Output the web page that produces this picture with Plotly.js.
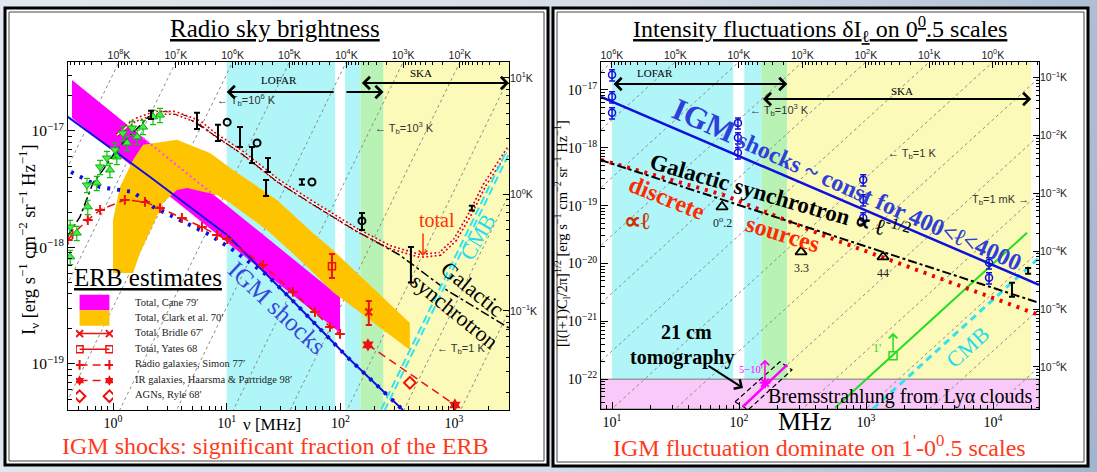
<!DOCTYPE html>
<html><head><meta charset="utf-8">
<script src="https://cdn.plot.ly/plotly-3.0.1.min.js"></script>
<style>
html,body{margin:0;padding:0;}
body{width:1097px;height:472px;overflow:hidden;background:linear-gradient(105deg,#e2e8ef 0%,#d3dce7 55%,#a2b5ce 100%);}
#chart{width:1097px;height:472px;}
</style></head><body><div id="chart"></div>
<script>
// ================= DATA =================
// frequencies in MHz, intensities in erg s^-1 cm^-2 sr^-1 Hz^-1

// instrument bands (MHz)
const lofarBands = [[10, 90], [110, 150]];
const overlapBand = [150, 240];
const skaBand = [240, 20000];
const bremsLevel = 1e-22;

// brightness-temperature guide lines (K)
const leftTemps = [1e-1, 1, 1e1, 1e2, 1e3, 1e4, 1e5, 1e6, 1e7, 1e8];
const rightTemps = [1e-6, 1e-5, 1e-4, 1e-3, 1e-2, 1e-1, 1, 1e1, 1e2, 1e3, 1e4, 1e5, 1e6];

// ---- left panel: radio sky brightness ----
const caneNu = [0.436, 99.3, 99.3, 0.436];
const caneI = [2.74e-17, 3.76e-19, 1.85e-19, 1.29e-17];
const caneEdgeNu = [1.84, 7.89];
const caneEdgeI = [8.7e-18, 2.77e-18];

const clarkNu = [1.0, 1.0, 1.152, 1.50, 1.84, 3.65, 7.13, 11.4, 27.7, 57.4, 86.1, 409, 409, 86.1, 44.2, 22.6, 10.7, 8.22, 4.48, 3.65, 2.75, 2.12, 1.73, 1.50];
const clarkI = [6.04e-19, 1.72e-18, 3.30e-18, 5.64e-18, 7.6e-18, 8.4e-18, 6.47e-18, 4.63e-18, 2.56e-18, 1.33e-18, 9.5e-19, 2.25e-19, 1.32e-19, 4.15e-19, 7.82e-19, 1.41e-18, 2.41e-18, 2.82e-18, 3.24e-18, 3.12e-18, 2.41e-18, 1.41e-18, 8.97e-19, 6.04e-19];

const igmNu = [0.40, 2.12, 10.1, 36.1, 117, 355];
const igmI = [1.32e-17, 4.03e-18, 1.28e-18, 3.69e-19, 1.13e-19, 4.03e-20];
const igmLowNu = [0.427, 0.77, 1.50, 2.25, 3.88, 7.13, 11.4, 16.0, 23.1, 36.1, 117, 355];
const igmLowI = [4.45e-18, 3.30e-18, 2.99e-18, 2.23e-18, 1.72e-18, 1.28e-18, 9.5e-19, 7.4e-19, 5.69e-19, 3.69e-19, 1.13e-19, 4.03e-20];

const totalNu = [1.08, 1.56, 2.34, 3.51, 5.82, 7.58, 13.9, 27.7, 57.4, 140, 273, 502, 751, 1019, 1370, 1860, 3040];
const totalI = [9.2e-18, 1.24e-17, 1.43e-17, 1.43e-17, 1.19e-17, 9.6e-18, 6.47e-18, 3.79e-18, 2.41e-18, 1.41e-18, 1.01e-18, 8.45e-19, 8.8e-19, 1.16e-18, 1.90e-18, 3.44e-18, 7.15e-18];

const synchNu = [0.394, 0.512, 0.667, 0.817, 1.08, 1.50, 2.12, 2.87, 4.30, 7.58, 13.9, 27.7, 57.4, 140, 334, 865, 3040];
const synchI = [1.23e-18, 1.83e-18, 3.58e-18, 4.63e-18, 6.9e-18, 9.6e-18, 1.37e-17, 1.46e-17, 1.35e-17, 9.4e-18, 6.3e-18, 3.7e-18, 2.35e-18, 1.38e-18, 8.6e-19, 4.3e-19, 2.04e-19];

const simonNu = [0.40, 0.44, 0.60, 0.77, 1.27, 1.91, 2.59, 4.04, 6.06, 8.22, 10.1, 20.8, 38.3, 59.8, 81.1, 99.3];
const simonI = [1.16e-18, 1.3e-18, 1.72e-18, 2.10e-18, 2.56e-18, 2.46e-18, 2.18e-18, 1.79e-18, 1.50e-18, 1.28e-18, 1.18e-18, 7.1e-19, 4.15e-19, 2.79e-19, 2.08e-19, 1.81e-19];

const bridleNu = [178], bridleI = [2.79e-19], bridleErrP = [6.8e-20], bridleErrM = [6.3e-20];
const yatesNu = [84.4], yatesI = [6.9e-19], yatesErrP = [1.9e-19], yatesErrM = [1.43e-19];
const irNu = [175, 1019], irI = [1.46e-19, 4.45e-20];
const agnNu = [409], agnI = [6.9e-20];
const cmbNu = [237, 3040], cmbI = [4.03e-20, 6.87e-18];

const obsNu = [2.16, 5.48, 8.38, 13.1, 16.7, 23.1, 22.2, 45.9, 155, 418, 1436];
const obsI = [1.37e-17, 1.22e-17, 9.6e-18, 8.9e-18, 6.2e-18, 5.11e-18, 3.24e-18, 3.65e-18, 1.69e-18, 7.1e-19, 2.18e-18];
const obsErrP = [1.2e-18, 2.1e-18, 1.7e-18, 1.9e-18, 1.1e-18, 7.5e-19, 5.5e-19, 2.0e-19, 2.9e-19, 3.0e-19, 1.0e-19];
const obsErrM = [1.0e-18, 1.8e-18, 1.4e-18, 1.6e-18, 9e-19, 6.6e-19, 4.7e-19, 2.0e-19, 2.8e-19, 2.1e-19, 1.0e-19];
const circNu = [10.1, 18.5, 56.3, 155];
const circI = [1.19e-17, 7.9e-18, 3.65e-18, 1.69e-18];

const greenDownNu = [0.42, 0.59, 0.77, 0.885, 1.04, 1.22, 1.47];
const greenDownI = [1.50e-18, 3.44e-18, 4.91e-18, 5.86e-18, 6.9e-18, 9.6e-18, 1.06e-17];
const greenUpNu = [0.42, 0.48, 0.60, 0.72, 0.94, 1.08, 1.33, 1.63, 1.84, 2.25, 2.59];
const greenUpI = [8.3e-19, 1.33e-18, 2.23e-18, 3.58e-18, 4.63e-18, 5.98e-18, 7.9e-18, 8.9e-18, 1.08e-17, 1.32e-17, 1.37e-17];

const erbLegend = ["Total, Cane 79′", "Total, Clark et al. 70′", "Total, Bridle 67′", "Total, Yates 68", "Radio galaxies, Simon 77′", "IR galaxies, Haarsma &amp; Partridge 98′", "AGNs, Ryle 68′"];

// ---- right panel: intensity fluctuations ----
const igm2Nu = [8.19, 23000];
const igm2I = [7.62e-18, 4.28e-21];
const igmObsNu = [10, 10, 10, 98, 98, 98, 950, 950, 950, 9300, 9300];
const igmObsI = [1.83e-17, 7.62e-18, 4.03e-18, 2.70e-18, 1.49e-18, 8.19e-19, 2.80e-19, 1.26e-19, 6.17e-20, 1.03e-20, 5.65e-21];
const synch2Nu = [8.05, 23000];
const synch2I = [6.2e-19, 2.09e-21];
const disc2Nu = [8.19, 74.8, 493, 23000];
const disc2I = [6.2e-19, 1.54e-19, 2.89e-20, 1.29e-21];
const triNu = [73.5, 308, 1361];
const triI = [9.55e-20, 1.59e-20, 1.30e-20];
const triLabels = ["0<sup>o</sup>.2", "3.3", "44"];
const obs2Nu = [18900, 14100];
const obs2I = [7.46e-21, 3.51e-21];
const obs2ErrP = [9e-22, 1.12e-21];
const obs2ErrM = [8e-22, 8.6e-22];
const grn2Nu = [570, 18500];
const grn2I = [3.19e-23, 3.39e-20];
const grnSqNu = [1633], grnSqI = [2.53e-22];
const cmb2Nu = [1135, 23000];
const cmb2I = [3.07e-23, 1.25e-20];
const tomoNu = [107, 239], tomoI = [3.32e-23, 1.77e-22];
const tomoStarNu = [160], tomoStarI = [8.63e-23];
const tomoBoxNu = [93.1, 210, 261, 118, 93.1];
const tomoBoxI = [4.06e-23, 2.0e-22, 1.45e-22, 2.95e-23, 4.06e-23];

// ================= LAYOUT HELPERS =================
const W = 1097, H = 472;
const px = x => x / W, py = y => 1 - y / H;
const SERIF = '"Liberation Serif", "Times New Roman", serif';
const SANS = '"Liberation Sans", Arial, sans-serif';
const RJ = 3.07e-25; // 2k nu^2/c^2 per K, nu in MHz (Rayleigh-Jeans)
const COL = {cyan:'#b0f6f8', green:'#b8f2b5', yellow:'#fbfab8', pink:'#f9c9f9', magenta:'#ff00ff',
  orange:'#ffc400', blue:'#1010dd', red:'#ee1111', cmb:'#33e2f0', grn:'#22dd22'};

const LX = [-0.396, 3.484], LY = [-19.395, -16.408];
const RX = [0.913, 4.362], RY = [-22.516, -16.516];

const lg = Math.log10;
const decText = n => '10<sup>' + (n < 0 ? '−' + (-n) : n) + '</sup>';
const kText = T => decText(Math.round(lg(T))) + 'K';
function minorVals(lo, hi) {
  const out = [];
  for (let k = Math.floor(lo) - 1; k <= Math.ceil(hi); k++)
    for (let m = 2; m <= 9; m++) { const v = m * Math.pow(10, k); if (lg(v) > lo && lg(v) < hi) out.push(v); }
  return out;
}
const topNu = (T, yr) => Math.sqrt(Math.pow(10, yr[1]) / (RJ * T));
const rightI = (T, xr) => RJ * T * Math.pow(10, 2 * xr[1]);
function minorT(lo, hi) { const o = []; for (let k = lo; k <= hi; k++) for (let m = 2; m <= 9; m++) o.push(m * Math.pow(10, k)); return o; }

// ================= TRACES =================
const traces = [];
const onL = {xaxis:'x', yaxis:'y'}, onR = {xaxis:'x2', yaxis:'y2'};
const base = {hoverinfo:'skip', showlegend:false};
function add(ax, o) { traces.push(Object.assign({}, base, ax, o)); }

leftTemps.forEach(T => add(onL, {x:[0.3, 4000], y:[RJ*T*0.09, RJ*T*1.6e7], mode:'lines', line:{color:'#8c8c8c', width:1, dash:'dot'}}));
rightTemps.forEach(T => add(onR, {x:[7, 30000], y:[RJ*T*49, RJ*T*9e8], mode:'lines', line:{color:'#8c8c8c', width:1, dash:'dot'}}));

add(onL, {x:caneNu, y:caneI, mode:'lines', fill:'toself', fillcolor:COL.magenta, line:{width:0, color:COL.magenta}});
add(onL, {x:clarkNu, y:clarkI, mode:'lines', fill:'toself', fillcolor:COL.orange, line:{width:0, color:COL.orange}});
add(onL, {x:caneEdgeNu, y:caneEdgeI, mode:'lines', line:{color:'#ff44ff', width:2, dash:'2px,3px'}});

add(onL, {x:igmLowNu, y:igmLowI, mode:'lines', line:{color:COL.blue, width:4, dash:'3px,7px'}});
add(onL, {x:igmNu, y:igmI, mode:'lines', line:{color:COL.blue, width:2}});

const sty = {
  bridle: {mode:'lines+markers', line:{color:COL.red, width:1.5}, marker:{symbol:'x-thin', size:7, line:{color:COL.red, width:2}}},
  yates: {mode:'lines+markers', line:{color:COL.red, width:1.5}, marker:{symbol:'square-open', size:7, color:COL.red, line:{color:COL.red, width:1.5}}},
  simon: {mode:'lines+markers', line:{color:COL.red, width:1.5, dash:'8px,5px'}, marker:{symbol:'cross-thin', size:7, line:{color:COL.red, width:2}}},
  ir: {mode:'lines+markers', line:{color:COL.red, width:1.5, dash:'8px,5px'}, marker:{symbol:'hexagram', size:10, color:COL.red}},
  agn: {mode:'markers', marker:{symbol:'diamond-open', size:9, color:COL.red, line:{color:COL.red, width:2}}}
};

add(onL, Object.assign({x:simonNu, y:simonI}, sty.simon));
add(onL, {x:synchNu, y:synchI, mode:'lines', line:{color:'#000', width:1.5, dash:'dashdot'}});
add(onL, {x:totalNu, y:totalI, mode:'lines', line:{color:'#e00000', width:4.5, dash:'1.8px,2.4px'}});
add(onL, {x:totalNu, y:totalI, mode:'lines', line:{color:'#ffffff', width:1.2}});
add(onL, {x:cmbNu, y:cmbI, mode:'lines', line:{color:COL.cmb, width:5.5, dash:'8px,4px'}});
add(onL, {x:cmbNu, y:cmbI, mode:'lines', line:{color:'#fbfab8', width:1.5}});
add(onL, {x:greenUpNu, y:greenUpI, mode:'markers', marker:{symbol:'triangle-up', size:8, color:'#44f044', line:{color:'#10b010', width:1}},
  error_y:{type:'percent', value:14, color:'#10c010', thickness:1.2, width:3}});
add(onL, {x:greenDownNu, y:greenDownI, mode:'markers', marker:{symbol:'triangle-down', size:8, color:'#44f044', line:{color:'#10b010', width:1}},
  error_y:{type:'percent', value:14, color:'#10c010', thickness:1.2, width:3}});
add(onL, {x:obsNu, y:obsI, mode:'markers', marker:{symbol:'line-ew', size:1, color:'#000', line:{width:0}},
  error_y:{type:'data', array:obsErrP, arrayminus:obsErrM, color:'#000', thickness:2, width:3}});
add(onL, {x:circNu, y:circI, mode:'markers', marker:{symbol:'circle-open', size:7, color:'#000', line:{color:'#000', width:2}}});
add(onL, Object.assign({x:yatesNu, y:yatesI, error_y:{type:'data', array:yatesErrP, arrayminus:yatesErrM, color:COL.red, thickness:2, width:3}}, sty.yates, {mode:'markers'}));
add(onL, Object.assign({x:bridleNu, y:bridleI, error_y:{type:'data', array:bridleErrP, arrayminus:bridleErrM, color:COL.red, thickness:2, width:3}}, sty.bridle, {mode:'markers'}));
add(onL, Object.assign({x:irNu, y:irI}, sty.ir));
add(onL, Object.assign({x:agnNu, y:agnI}, sty.agn));

add(onR, {x:tomoBoxNu, y:tomoBoxI, mode:'lines', line:{color:'#000', width:1.2, dash:'5px,3px'}});
add(onR, {x:tomoNu, y:tomoI, mode:'lines', line:{color:COL.magenta, width:2.5}});
add(onR, {x:tomoStarNu, y:tomoStarI, mode:'markers', marker:{symbol:'asterisk', size:9, line:{color:COL.magenta, width:2}}});
add(onR, {x:grn2Nu, y:grn2I, mode:'lines', line:{color:COL.grn, width:2}});
add(onR, {x:grnSqNu, y:grnSqI, mode:'markers', marker:{symbol:'square-open', size:8, color:COL.grn, line:{color:COL.grn, width:1.5}}});
add(onR, {x:cmb2Nu, y:cmb2I, mode:'lines', line:{color:COL.cmb, width:3, dash:'7px,5px'}});
add(onR, {x:disc2Nu, y:disc2I, mode:'lines', line:{color:'#ee0000', width:4, dash:'3px,6px'}});
add(onR, {x:synch2Nu, y:synch2I, mode:'lines', line:{color:'#000', width:2, dash:'dashdot'}});
add(onR, {x:igm2Nu, y:igm2I, mode:'lines', line:{color:COL.blue, width:2.5}});
add(onR, {x:igmObsNu, y:igmObsI, mode:'markers', marker:{symbol:'circle-open', size:7, color:COL.blue, line:{color:COL.blue, width:1.5}},
  error_y:{type:'percent', value:22, color:COL.blue, thickness:1.5, width:3}});
add(onR, {x:triNu, y:triI, mode:'markers', marker:{symbol:'triangle-up-open', size:10, color:'#000', line:{color:'#000', width:1.8}}});
add(onR, {x:obs2Nu, y:obs2I, mode:'markers', marker:{symbol:'line-ew', size:1, color:'#000', line:{width:0}},
  error_y:{type:'data', array:obs2ErrP, arrayminus:obs2ErrM, color:'#000', thickness:2, width:3}});

add({xaxis:'x3', yaxis:'y'}, {x:[null], y:[null], mode:'markers'});
add({xaxis:'x', yaxis:'y3'}, {x:[null], y:[null], mode:'markers'});
add({xaxis:'x4', yaxis:'y2'}, {x:[null], y:[null], mode:'markers'});
add({xaxis:'x2', yaxis:'y4'}, {x:[null], y:[null], mode:'markers'});

const lgAx = {xaxis:'x5', yaxis:'y5'};
[['bridle', 2], ['yates', 3], ['simon', 4], ['ir', 5], ['agn', 6]].forEach(([k, row]) => {
  const s = JSON.parse(JSON.stringify(sty[k]));
  if (k === 'ir') s.marker.size = 8;
  add(lgAx, Object.assign({x:[0, 1], y:[row, row]}, s));
});

// ================= AXES =================
const axBase = {type:'log', showgrid:false, zeroline:false, showline:true, linecolor:'#000', linewidth:1,
  ticks:'inside', ticklen:7, tickcolor:'#000', tickmode:'array', fixedrange:true};
const minorOf = (lo, hi) => ({ticks:'inside', ticklen:4, tickcolor:'#000', tickmode:'array', tickvals:minorVals(lo, hi)});

const leftTopT = [1e8, 1e7, 1e6, 1e5, 1e4, 1e3, 1e2];
const leftRightT = [1e1, 1, 1e-1];
const rightTopT = [1e6, 1e5, 1e4, 1e3, 1e2, 1e1, 1];
const rightRightT = [1e-1, 1e-2, 1e-3, 1e-4, 1e-5, 1e-6];

function kAxisX(over, anchor, xr, yr, Ts, mlo, mhi) {
  const mv = minorT(mlo, mhi).map(T => topNu(T, yr)).filter(v => lg(v) > xr[0] && lg(v) < xr[1]);
  return Object.assign({}, axBase, {overlaying:over, anchor:anchor, side:'top', range:xr, showline:false,
    tickvals:Ts.map(T => topNu(T, yr)), ticktext:Ts.map(kText), ticklen:6,
    tickfont:{family:SANS, size:10.5, color:'#222'}, minor:{ticks:'inside', ticklen:3, tickcolor:'#000', tickmode:'array', tickvals:mv}});
}
function kAxisY(over, anchor, xr, yr, Ts, mlo, mhi) {
  const mv = minorT(mlo, mhi).map(T => rightI(T, xr)).filter(v => lg(v) > yr[0] && lg(v) < yr[1]);
  return Object.assign({}, axBase, {overlaying:over, anchor:anchor, side:'right', range:yr, showline:false,
    tickvals:Ts.map(T => rightI(T, xr)), ticktext:Ts.map(kText), ticklen:6,
    tickfont:{family:SANS, size:10.5, color:'#222'}, minor:{ticks:'inside', ticklen:3, tickcolor:'#000', tickmode:'array', tickvals:mv}});
}

const layout = {
  width:W, height:H, margin:{l:0, r:0, t:0, b:0, pad:0}, autosize:false,
  paper_bgcolor:'rgba(0,0,0,0)', plot_bgcolor:'rgba(0,0,0,0)', showlegend:false, hovermode:false,
  font:{family:SERIF, color:'#000'},
  xaxis: Object.assign({}, axBase, {domain:[px(68), px(509)], range:LX, anchor:'y', mirror:true,
    tickvals:[1, 10, 100, 1000], ticktext:[0, 1, 2, 3].map(decText), tickfont:{family:SERIF, size:14},
    minor:minorOf(LX[0], LX[1])}),
  yaxis: Object.assign({}, axBase, {domain:[py(410), py(62)], range:LY, anchor:'x', mirror:true,
    tickvals:[1e-17, 1e-18, 1e-19], ticktext:[-17, -18, -19].map(decText), tickfont:{family:SERIF, size:15.5},
    minor:minorOf(LY[0], LY[1])}),
  xaxis2: Object.assign({}, axBase, {domain:[px(601), px(1039)], range:RX, anchor:'y2', mirror:true,
    tickvals:[10, 100, 1000, 10000], ticktext:[1, 2, 3, 4].map(decText), tickfont:{family:SERIF, size:14},
    minor:minorOf(RX[0], RX[1])}),
  yaxis2: Object.assign({}, axBase, {domain:[py(409), py(62)], range:RY, anchor:'x2', mirror:true,
    tickvals:[1e-17, 1e-18, 1e-19, 1e-20, 1e-21, 1e-22], ticktext:[-17, -18, -19, -20, -21, -22].map(decText),
    tickfont:{family:SERIF, size:14}, minor:minorOf(RY[0], RY[1])}),
  xaxis3: kAxisX('x', 'y', LX, LY, leftTopT, 1, 8),
  yaxis3: kAxisY('y', 'x', LX, LY, leftRightT, -2, 1),
  xaxis4: kAxisX('x2', 'y2', RX, RY, rightTopT, -1, 6),
  yaxis4: kAxisY('y2', 'x2', RX, RY, rightRightT, -7, -1),
  xaxis5: {domain:[px(76), px(113)], range:[-0.12, 1.12], visible:false, anchor:'y5', fixedrange:true},
  yaxis5: {domain:[py(404), py(294.5)], range:[6.5, -0.5], visible:false, anchor:'x5', fixedrange:true},
  shapes: [], annotations: []
};

const S = layout.shapes, A = layout.annotations;
[[5, 8, 548, 465], [553, 8, 1088, 466]].forEach(([x0, y0, x1, y1]) => {
  S.push({type:'rect', xref:'paper', yref:'paper', x0:px(x0), x1:px(x1), y0:py(y1), y1:py(y0), fillcolor:'#fff', line:{color:'#000', width:3}, layer:'below'});
  S.push({type:'rect', xref:'paper', yref:'paper', x0:px(x0+4), x1:px(x1-4), y0:py(y1-4), y1:py(y0+4), line:{color:'#444', width:1}, layer:'below'});
});
function band(xr, lo, hi, color) { S.push({type:'rect', xref:xr, yref:(xr === 'x' ? 'y' : 'y2') + ' domain', x0:lo, x1:hi, y0:0, y1:1, fillcolor:color, line:{width:0}, layer:'below'}); }
['x', 'x2'].forEach(xr => {
  lofarBands.forEach(b => band(xr, b[0], b[1], COL.cyan));
  band(xr, overlapBand[0], overlapBand[1], COL.green);
  band(xr, skaBand[0], skaBand[1], COL.yellow);
});
S.push({type:'rect', xref:'x2 domain', yref:'y2', x0:0, x1:1, y0:Math.pow(10, RY[0]), y1:bremsLevel, fillcolor:COL.pink, line:{color:'#777', width:1}, layer:'below'});
S.push({type:'rect', xref:'x5', yref:'y5', x0:0, x1:1, y0:-0.5, y1:0.5, fillcolor:COL.magenta, line:{width:0}});
S.push({type:'rect', xref:'x5', yref:'y5', x0:0, x1:1, y0:0.5, y1:1.5, fillcolor:COL.orange, line:{width:0}});

function T(x, y, text, size, color, extra) {
  A.push(Object.assign({xref:'paper', yref:'paper', x:px(x), y:py(y), text:text, showarrow:false,
    xanchor:'center', yanchor:'middle', font:{family:SERIF, size:size, color:color || '#000'}}, extra || {}));
}
const sansFont = {family:SANS, size:11, color:'#333'};
function arrowPx(x1, y1, x2, y2, color, w, side) {
  A.push({xref:'paper', yref:'paper', x:px(x2), y:py(y2), ax:x1 - x2, ay:y1 - y2, text:'', showarrow:true,
    arrowhead:4, arrowsize:1.1, arrowwidth:w || 1.5, arrowcolor:color, arrowside:side || 'end', standoff:0, startstandoff:0});
}
function bandArrow(xr, ypix, from, to, side) {
  A.push({xref:xr, yref:'paper', x:lg(to), y:py(ypix), axref:xr, ax:lg(from), ayref:'pixel', ay:0, text:'', showarrow:true,
    arrowhead:4, startarrowhead:4, arrowsize:1.2, startarrowsize:1.2, arrowwidth:2, arrowcolor:'#000', arrowside:side, standoff:0, startstandoff:0});
}

// ---- left panel text ----
T(275, 29, '<u>Radio sky brightness</u>', 25);
T(275, 446, 'IGM shocks: significant fraction of the ERB', 24, '#ff3a1a');
T(28, 240, 'I<sub>ν</sub> [erg s<sup>−1</sup> cm<sup>−2</sup> sr<sup>−1</sup> Hz<sup>−1</sup>]', 18.5, '#000', {textangle:-90});
T(272, 424, 'ν [MHz]', 17);
T(148, 277, '<u>ERB estimates</u>', 25);
erbLegend.forEach((t, i) => T(133, 302 + 15.4 * i, t, 10.5, '#222', {xanchor:'left'}));
T(277, 307, 'IGM shocks', 25, '#3a48d8', {textangle:43});
T(463, 300, 'Galactic<br>synchrotron', 22, '#000', {textangle:39});
T(477, 237, 'CMB', 22, '#22dcee', {textangle:-60});
T(437, 220, 'total', 20, '#ff3300');
arrowPx(423, 232, 423, 256, '#ff3300', 1.5);
T(246, 100, '← T<sub>b</sub>=10<sup>6</sup> K', 11, '#333', {font:sansFont});
T(404, 128, '← T<sub>b</sub>=10<sup>3</sup> K', 11, '#333', {font:sansFont});
T(461, 349, '← T<sub>b</sub>=1 K', 11, '#333', {font:sansFont});
T(279, 80, 'LOFAR', 11);
T(421, 73, 'SKA', 11);
bandArrow('x', 92, lofarBands[0][1], lofarBands[0][0], 'end');
bandArrow('x', 92, lofarBands[1][0], overlapBand[1], 'end');
bandArrow('x', 83, overlapBand[0], Math.pow(10, LX[1]), 'end+start');

// ---- right panel text ----
T(820, 29, '<u>Intensity fluctuations δI<sub>ℓ</sub> on 0<sup>0</sup>.5 scales</u>', 24);
T(819, 446, "IGM fluctuation dominate on 1<sup>'</sup>-0<sup>0</sup>.5 scales", 24, '#ff3a1a');
T(562, 234, '[l(l+1)C<sub>l</sub>/2π]<sup>1/2</sup> [erg s<sup>−1</sup> cm<sup>−2</sup> sr<sup>−1</sup> Hz<sup>−1</sup>]', 14.5, '#000', {textangle:-90});
T(804, 421, 'MHz', 26);
T(655, 73, 'LOFAR', 11);
T(902, 91, 'SKA', 11);
bandArrow('x2', 84, lofarBands[0][0], overlapBand[1], 'end+start');
bandArrow('x2', 99, overlapBand[0], skaBand[1], 'end+start');
T(779, 110, '← T<sub>b</sub>=10<sup>3</sup> K', 11, '#333', {font:sansFont});
T(912, 154, '← T<sub>b</sub>=1 K', 11, '#333', {font:sansFont});
T(1000, 200, 'T<sub>b</sub>=1 mK →', 11, '#333', {font:sansFont});
T(848, 184, '<b><span style="font-size:31px">IGM</span> shocks ~ const for 400&lt;ℓ&lt;4000</b>', 24, '#2f3fd8', {textangle:24});
T(780, 196, '<b>Galactic synchrotron ∝ ℓ</b><sup>-1/2</sup>', 23, '#000', {textangle:16});
T(667, 198, '<b>discrete</b>', 24, '#ff2a00', {textangle:22});
T(637, 221, '<b>∝ℓ</b>', 24, '#cc3300');
T(783, 234, '<b>sources</b>', 24, '#ff2a00', {textangle:17});
T(686, 332, '<b>21 cm</b>', 20);
T(682, 357, '<b>tomography</b>', 20);
arrowPx(707, 365, 743, 388, '#000', 2);
T(751, 369, "5−10'", 10.5, COL.magenta);
T(877, 348, "1'", 12, COL.grn);
T(900, 396, 'Bremsstrahlung from Lyα clouds', 20);
T(967, 347, 'CMB', 22, '#22dcee', {textangle:-42});
triNu.forEach((n, i) => A.push({xref:'x2', yref:'y2', x:lg(n), y:lg(triI[i]), yshift:-16, text:triLabels[i], showarrow:false,
  font:{family:SERIF, size:12, color:'#222'}}));
[[tomoStarNu[0], tomoStarI[0], COL.magenta], [grnSqNu[0], grnSqI[0], COL.grn]].forEach(([n, v, c]) =>
  A.push({xref:'x2', yref:'y2', x:lg(n), y:lg(v) + 0.4, axref:'x2', ax:lg(n), ayref:'y2', ay:lg(v) + 0.05, text:'', showarrow:true,
    arrowhead:4, arrowsize:1.1, arrowwidth:1.5, arrowcolor:c, standoff:0}));

Plotly.newPlot('chart', traces, layout, {staticPlot:true, displayModeBar:false});
</script></body></html>
